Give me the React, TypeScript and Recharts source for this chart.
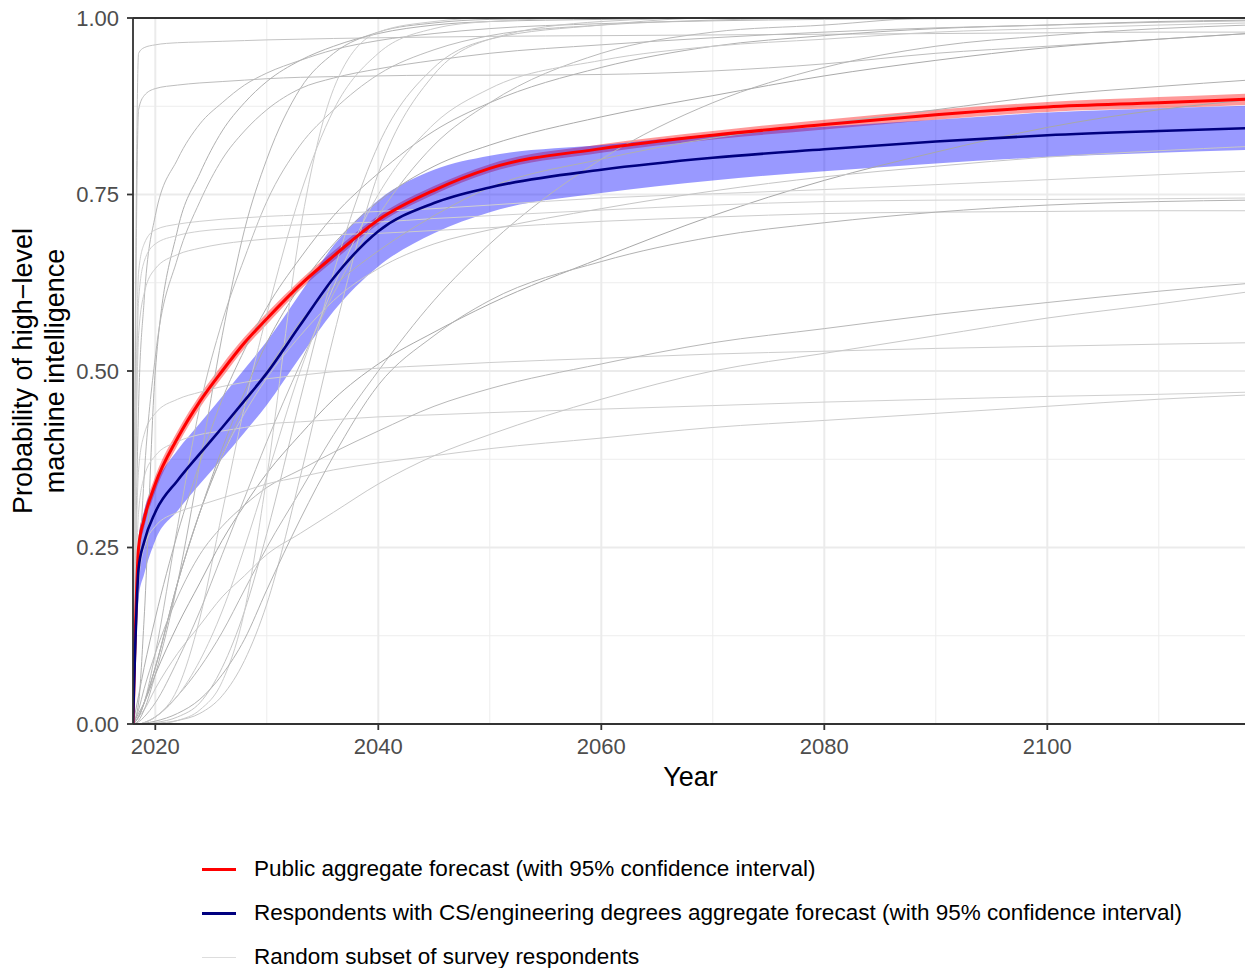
import React from "react";
import {
  ComposedChart,
  Line,
  Area,
  XAxis,
  YAxis,
  CartesianGrid,
  ReferenceLine,
  Legend
} from "recharts";

const FONT = '"Liberation Sans", Arial, Helvetica, sans-serif';

// sample years shared by every curve
const years = [2018, 2018.5, 2019, 2020, 2022, 2024, 2026, 2028, 2030, 2033, 2036, 2040, 2045, 2050, 2060, 2070, 2080, 2090, 2100, 2110, 2118];

const majorYears = [2020, 2040, 2060, 2080, 2100];
const minorYears = [2030, 2050, 2070, 2090, 2110];
const majorProbs = [0, 0.25, 0.5, 0.75, 1];
const minorProbs = [0.125, 0.375, 0.625, 0.875];

// public aggregate + 95% CI
const publicForecast = [0, 0.25, 0.29, 0.34, 0.405, 0.457, 0.5, 0.54, 0.574, 0.622, 0.663, 0.714, 0.756, 0.787, 0.815, 0.834, 0.849, 0.863, 0.874, 0.88, 0.885];
const publicLower = [0, 0.237, 0.278, 0.329, 0.395, 0.448, 0.491, 0.532, 0.566, 0.615, 0.656, 0.708, 0.75, 0.781, 0.809, 0.828, 0.842, 0.856, 0.867, 0.872, 0.877];
const publicUpper = [0, 0.263, 0.302, 0.351, 0.415, 0.466, 0.509, 0.548, 0.582, 0.629, 0.67, 0.72, 0.762, 0.793, 0.821, 0.84, 0.856, 0.87, 0.881, 0.888, 0.893];

// CS / engineering respondents aggregate + 95% CI
const csForecast = [0, 0.22, 0.258, 0.3, 0.345, 0.383, 0.42, 0.458, 0.497, 0.565, 0.632, 0.698, 0.738, 0.76, 0.785, 0.802, 0.814, 0.825, 0.834, 0.84, 0.844];
const csLower = [0, 0.178, 0.212, 0.26, 0.302, 0.34, 0.376, 0.413, 0.452, 0.52, 0.585, 0.648, 0.695, 0.725, 0.752, 0.77, 0.783, 0.794, 0.803, 0.809, 0.813];
const csUpper = [0, 0.262, 0.302, 0.34, 0.388, 0.426, 0.464, 0.503, 0.542, 0.61, 0.678, 0.742, 0.785, 0.805, 0.82, 0.835, 0.846, 0.856, 0.866, 0.872, 0.876];

// random subset of individual respondents
const r01 = [0, 0.95, 0.958, 0.962, 0.965, 0.966, 0.967, 0.968, 0.969, 0.97, 0.971, 0.972, 0.973, 0.974, 0.975, 0.976, 0.977, 0.978, 0.979, 0.98, 0.98];
const r02 = [0, 0.87, 0.89, 0.9, 0.905, 0.908, 0.91, 0.912, 0.914, 0.916, 0.917, 0.918, 0.919, 0.919, 0.92, 0.925, 0.935, 0.95, 0.96, 0.97, 0.978];
const r03 = [0, 0.45, 0.6, 0.72, 0.8, 0.85, 0.88, 0.905, 0.922, 0.94, 0.955, 0.968, 0.978, 0.985, 0.992, 0.996, 0.998, 0.999, 1, 1, 1];
const r04 = [0, 0.03, 0.15, 0.5, 0.7, 0.78, 0.84, 0.88, 0.91, 0.94, 0.96, 0.978, 0.99, 0.995, 0.998, 1, 1, 1, 1, 1, 1];
const r05 = [0, 0.01, 0.03, 0.1, 0.28, 0.45, 0.57, 0.66, 0.74, 0.82, 0.87, 0.92, 0.955, 0.975, 0.99, 0.997, 1, 1, 1, 1, 1];
const r06 = [0, 0, 0.002, 0.01, 0.05, 0.15, 0.3, 0.45, 0.58, 0.75, 0.87, 0.95, 0.985, 0.995, 1, 1, 1, 1, 1, 1, 1];
const r07 = [0, 0, 0, 0.002, 0.01, 0.03, 0.08, 0.16, 0.27, 0.46, 0.64, 0.82, 0.93, 0.97, 0.99, 1, 1, 1, 1, 1, 1];
const r08 = [0, 0, 0.002, 0.01, 0.04, 0.08, 0.13, 0.19, 0.25, 0.33, 0.41, 0.5, 0.6, 0.68, 0.8, 0.88, 0.93, 0.96, 0.975, 0.985, 0.99];
const r09 = [0, 0.015, 0.03, 0.07, 0.14, 0.2, 0.26, 0.31, 0.355, 0.41, 0.46, 0.51, 0.555, 0.595, 0.66, 0.72, 0.77, 0.81, 0.845, 0.87, 0.884];
const r10 = [0, 0.01, 0.03, 0.08, 0.2, 0.3, 0.39, 0.47, 0.54, 0.62, 0.68, 0.74, 0.79, 0.82, 0.86, 0.89, 0.918, 0.94, 0.958, 0.97, 0.978];
const r11 = [0, 0.6, 0.655, 0.68, 0.692, 0.698, 0.701, 0.703, 0.705, 0.707, 0.709, 0.711, 0.716, 0.72, 0.728, 0.735, 0.74, 0.742, 0.743, 0.744, 0.745];
const r12 = [0, 0.55, 0.61, 0.645, 0.665, 0.674, 0.68, 0.684, 0.687, 0.69, 0.693, 0.695, 0.699, 0.703, 0.712, 0.718, 0.723, 0.725, 0.726, 0.727, 0.727];
const r13 = [0, 0.3, 0.35, 0.38, 0.4, 0.41, 0.415, 0.42, 0.425, 0.428, 0.431, 0.435, 0.438, 0.441, 0.446, 0.451, 0.456, 0.46, 0.464, 0.467, 0.47];
const r14 = [0, 0.36, 0.41, 0.44, 0.46, 0.47, 0.478, 0.484, 0.489, 0.494, 0.499, 0.504, 0.508, 0.512, 0.518, 0.524, 0.528, 0.532, 0.535, 0.538, 0.54];
const r15 = [0, 0.02, 0.05, 0.1, 0.18, 0.24, 0.28, 0.31, 0.335, 0.36, 0.385, 0.415, 0.45, 0.475, 0.51, 0.54, 0.56, 0.58, 0.597, 0.613, 0.624];
const r16 = [0, 0.01, 0.02, 0.05, 0.1, 0.14, 0.18, 0.21, 0.24, 0.27, 0.3, 0.34, 0.38, 0.41, 0.46, 0.5, 0.525, 0.55, 0.575, 0.595, 0.612];
const r17 = [0, 0.64, 0.68, 0.7, 0.708, 0.712, 0.715, 0.717, 0.719, 0.721, 0.723, 0.726, 0.73, 0.735, 0.745, 0.751, 0.757, 0.764, 0.771, 0.778, 0.783];
const r18 = [0, 0.01, 0.03, 0.08, 0.2, 0.3, 0.38, 0.44, 0.49, 0.55, 0.6, 0.645, 0.68, 0.7, 0.73, 0.755, 0.775, 0.79, 0.803, 0.812, 0.818];
const r19 = [0, 0.005, 0.02, 0.07, 0.2, 0.37, 0.55, 0.7, 0.8, 0.9, 0.95, 0.98, 0.993, 0.998, 1, 1, 1, 1, 1, 1, 1];
const r20 = [0, 0, 0, 0, 0.005, 0.02, 0.06, 0.16, 0.35, 0.7, 0.9, 0.98, 0.995, 1, 1, 1, 1, 1, 1, 1, 1];
const r21 = [0, 0, 0, 0.001, 0.005, 0.015, 0.04, 0.09, 0.17, 0.35, 0.55, 0.78, 0.92, 0.97, 0.995, 1, 1, 1, 1, 1, 1];
const r22 = [0, 0.04, 0.08, 0.15, 0.27, 0.37, 0.46, 0.53, 0.59, 0.66, 0.72, 0.78, 0.84, 0.88, 0.93, 0.96, 0.975, 0.985, 0.99, 0.995, 0.997];
const r23 = [0, 0.2, 0.35, 0.52, 0.66, 0.74, 0.8, 0.84, 0.87, 0.9, 0.915, 0.928, 0.94, 0.95, 0.962, 0.972, 0.98, 0.986, 0.99, 0.994, 0.996];
const r24 = [0, 0.003, 0.01, 0.03, 0.09, 0.16, 0.24, 0.32, 0.4, 0.51, 0.61, 0.72, 0.82, 0.88, 0.95, 0.98, 0.99, 1, 1, 1, 1];
const r25 = [0, 0.01, 0.03, 0.08, 0.2, 0.3, 0.38, 0.45, 0.5, 0.57, 0.62, 0.67, 0.72, 0.76, 0.8, 0.83, 0.85, 0.87, 0.89, 0.903, 0.912];
const r26 = [0, 0.2, 0.25, 0.28, 0.3, 0.31, 0.32, 0.33, 0.34, 0.35, 0.36, 0.37, 0.38, 0.39, 0.405, 0.42, 0.43, 0.44, 0.45, 0.46, 0.466];
const r27 = [0, 0, 0.001, 0.004, 0.015, 0.035, 0.07, 0.12, 0.19, 0.29, 0.38, 0.48, 0.55, 0.6, 0.655, 0.69, 0.71, 0.725, 0.735, 0.74, 0.742];
const r28 = [0, 0, 0.002, 0.01, 0.04, 0.09, 0.16, 0.25, 0.35, 0.5, 0.62, 0.75, 0.85, 0.9, 0.94, 0.96, 0.97, 0.98, 0.985, 0.99, 0.993];

const respondents = [r01, r02, r03, r04, r05, r06, r07, r08, r09, r10, r11, r12, r13, r14, r15, r16, r17, r18, r19, r20, r21, r22, r23, r24, r25, r26, r27, r28];
const respondentShades = ["#c4c4c4", "#bdbdbd", "#b8b8b8", "#b0b0b0", "#bcbcbc", "#cacaca", "#c4c4c4", "#b6b6b6", "#a8a8a8", "#aaaaaa", "#d0d0d0", "#cccccc", "#d0d0d0", "#cdcdcd", "#b8b8b8", "#c8c8c8", "#d0d0d0", "#c6c6c6", "#b4b4b4", "#cccccc", "#c6c6c6", "#b0b0b0", "#b8b8b8", "#bababa", "#b0b0b0", "#cdcdcd", "#b2b2b2", "#cacaca"];

const legendLabels = [
  "Public aggregate forecast (with 95% confidence interval)",
  "Respondents with CS/engineering degrees aggregate forecast (with 95% confidence interval)",
  "Random subset of survey respondents"
];
const legendKeys = [
  { color: "#ff0000", width: 3 },
  { color: "#00007f", width: 3 },
  { color: "#dddddd", width: 1 }
];

const rows = years.map((year, i) => {
  const row: Record<string, number | number[]> = {
    year,
    pub: publicForecast[i],
    pubBand: [publicLower[i], publicUpper[i]],
    cs: csForecast[i],
    csBand: [csLower[i], csUpper[i]]
  };
  respondents.forEach((r, j) => {
    row[`r${j}`] = r[i];
  });
  return row;
});

const YTitle = ({ viewBox }: any) => {
  const cy = viewBox.y + viewBox.height / 2;
  return (
    <text
      x={32}
      y={cy}
      transform={`rotate(-90 32 ${cy})`}
      textAnchor="middle"
      fontFamily={FONT}
      fontSize={27}
      fill="#000"
    >
      <tspan x={32} dy={0}>Probability of high−level</tspan>
      <tspan x={32} dy={32}>machine intelligence</tspan>
    </text>
  );
};

const XTitle = ({ viewBox }: any) => (
  <text
    x={viewBox.x + viewBox.width / 2}
    y={viewBox.y + 62}
    textAnchor="middle"
    fontFamily={FONT}
    fontSize={27}
    fill="#000"
  >
    Year
  </text>
);

const renderLegend = () => (
  <div style={{ height: 140, paddingTop: 19, boxSizing: "border-box", fontFamily: FONT, fontSize: 22.5 }}>
    {legendLabels.map((label, i) => (
      <div key={label} style={{ display: "flex", alignItems: "center", height: 44 }}>
        <div style={{ marginLeft: 202, width: 34, height: legendKeys[i].width, background: legendKeys[i].color }} />
        <span style={{ marginLeft: 18, color: "#000", whiteSpace: "nowrap" }}>{label}</span>
      </div>
    ))}
  </div>
);

const tickStyle = { fill: "#4d4d4d", fontSize: 22, fontFamily: FONT };

export default function App() {
  return (
    <div style={{ position: "absolute", left: 0, top: 0, width: 1245, height: 968, overflow: "hidden", background: "#fff" }}>
      <ComposedChart width={1248} height={968} data={rows} margin={{ top: 18, right: 0, bottom: 0, left: 0 }}>
        <XAxis xAxisId="minor" type="number" dataKey="year" domain={[2018, 2118]} ticks={minorYears} hide allowDataOverflow />
        <YAxis yAxisId="minor" type="number" domain={[0, 1]} ticks={minorProbs} hide allowDataOverflow />
        <CartesianGrid xAxisId="minor" yAxisId="minor" stroke="#ededed" strokeWidth={1} />
        <CartesianGrid stroke="#ebebeb" strokeWidth={2} />
        <XAxis
          type="number"
          dataKey="year"
          domain={[2018, 2118]}
          ticks={majorYears}
          allowDataOverflow
          height={104}
          tick={tickStyle}
          tickSize={6}
          tickMargin={8}
          axisLine={{ stroke: "#333", strokeWidth: 1.8 }}
          tickLine={{ stroke: "#333", strokeWidth: 1.8 }}
          label={<XTitle />}
        />
        <YAxis
          type="number"
          domain={[0, 1]}
          ticks={majorProbs}
          allowDataOverflow
          width={133}
          tick={tickStyle}
          tickSize={6}
          tickMargin={8}
          tickFormatter={(v: number) => v.toFixed(2)}
          axisLine={{ stroke: "#333", strokeWidth: 1.8 }}
          tickLine={{ stroke: "#333", strokeWidth: 1.8 }}
          label={<YTitle />}
        />
        {respondents.map((_, j) => (
          <Line
            key={`r${j}`}
            dataKey={`r${j}`}
            type="monotone"
            stroke={respondentShades[j]}
            strokeWidth={1}
            dot={false}
            activeDot={false}
            isAnimationActive={false}
            legendType="none"
          />
        ))}
        <Area dataKey="pubBand" type="monotone" fill="#ff0000" fillOpacity={0.4} stroke="none" isAnimationActive={false} legendType="none" />
        <Area dataKey="csBand" type="monotone" fill="#0000ff" fillOpacity={0.4} stroke="none" isAnimationActive={false} legendType="none" />
        <Line dataKey="pub" type="monotone" stroke="#ff0000" strokeWidth={3} dot={false} activeDot={false} isAnimationActive={false} />
        <Line dataKey="cs" type="monotone" stroke="#00007f" strokeWidth={2.6} dot={false} activeDot={false} isAnimationActive={false} />
        <ReferenceLine y={1} stroke="#333" strokeWidth={1.8} />
        <Legend verticalAlign="bottom" content={renderLegend} wrapperStyle={{ left: 0, width: 1248 }} />
      </ComposedChart>
    </div>
  );
}
